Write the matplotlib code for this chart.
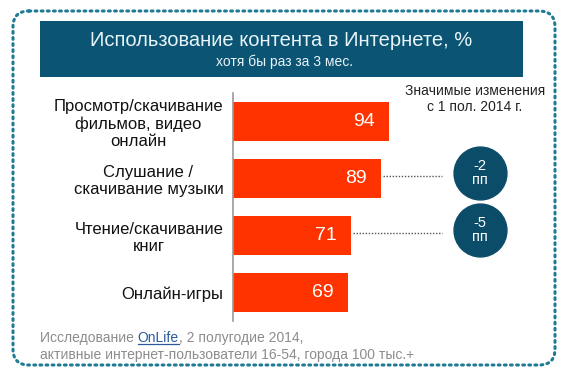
import matplotlib
matplotlib.use("Agg")
from matplotlib import pyplot as plt
from matplotlib.patches import FancyBboxPatch, Rectangle
from matplotlib.lines import Line2D

plt.rcParams["font.family"] = ["Liberation Sans", "DejaVu Sans"]

categories = ["Просмотр/скачивание\nфильмов, видео\nонлайн",
              "Слушание /\nскачивание музыки",
              "Чтение/скачивание\nкниг",
              "Онлайн-игры"]
values = [94, 89, 71, 69]
changes = [None, -2, -5, None]

title = "Использование контента в Интернете, %"
subtitle = "хотя бы раз за 3 мес."
changes_title = "Значимые изменения\nс 1 пол. 2014 г."

W, H = 567, 375
fig = plt.figure(figsize=(W / 100, H / 100), dpi=100)
fig.patch.set_facecolor("white")

# overlay in pixel coords for decorations
bg = fig.add_axes([0, 0, 1, 1])
bg.set_xlim(0, W)
bg.set_ylim(H, 0)
bg.axis("off")

bg.add_patch(FancyBboxPatch((13, 11), 542, 354, boxstyle="round,pad=0,rounding_size=16",
                            fill=False, edgecolor="#1f7a93", linewidth=2.2,
                            linestyle=(0, (0.6, 1.4)), capstyle="round"))
bg.add_patch(Rectangle((40, 21), 483, 56, facecolor="#0b5474", edgecolor="none"))
bg.text(281, 40, title, color="#e8f4f8", fontsize=14.5, ha="center", va="center")
bg.text(284, 62, subtitle, color="#e8f4f8", fontsize=10, ha="center", va="center")
bg.text(475, 99, changes_title, color="#222222", fontsize=10, ha="center", va="center",
        linespacing=1.1)

# bars
ax = fig.add_axes([233 / W, 1 - 321 / H, 166 / W, 228 / H])
ypos = list(range(len(values)))
ax.barh(ypos, values, height=0.7, color="#ff3300")
ax.set_xlim(0, 100)
ax.set_ylim(3.5, -0.5)
for s in ["top", "right", "bottom"]:
    ax.spines[s].set_visible(False)
ax.spines["left"].set_color("#999999")
ax.spines["left"].set_linewidth(1.2)
ax.set_xticks([])
ax.set_yticks(ypos)
ax.set_yticklabels(categories, fontsize=12, color="#111111", multialignment="center",
                   linespacing=1.2)
ax.tick_params(axis="y", length=0, pad=7)
ax.patch.set_alpha(0)

for i, v in enumerate(values):
    ax.text(v - 8.5, i, str(v), color="white", fontsize=14, ha="right", va="center")

for i, c in enumerate(changes):
    if c is None:
        continue
    ax.plot([values[i] + 1.5, 126], [i - 0.04, i - 0.04], linestyle=(0, (1, 1.2)),
            color="#555555", linewidth=1, clip_on=False)
    ax.scatter([148.5], [i - 0.1], s=1450, color="#0b4d69", clip_on=False, zorder=5)
    ax.text(148.5, i - 0.1, "%d\nпп" % c, color="white", fontsize=10.5, ha="center",
            va="center", linespacing=0.95, zorder=6, clip_on=False)

# footer
grey = "#8c8c8c"
fs = 10
t1 = bg.text(40, 338, "Исследование ", color=grey, fontsize=fs, va="center")
t2 = bg.annotate("OnLife", xy=(1, 0), xycoords=t1, va="bottom", ha="left",
                 color="#2a5a9a", fontsize=fs)
t3 = bg.annotate(", 2 полугодие 2014,", xy=(1, 0), xycoords=t2, va="bottom", ha="left",
                 color=grey, fontsize=fs)
bg.text(40, 355, "активные интернет-пользователи 16-54, города 100 тыс.+", color=grey,
        fontsize=fs, va="center")

fig.canvas.draw()
bb = t2.get_window_extent()
fig.add_artist(Line2D([bb.x0 / W, bb.x1 / W], [(bb.y0 + 1.5) / H, (bb.y0 + 1.5) / H],
                      color="#2a5a9a", linewidth=0.9, transform=fig.transFigure))

fig.savefig("out.png", dpi=100)
